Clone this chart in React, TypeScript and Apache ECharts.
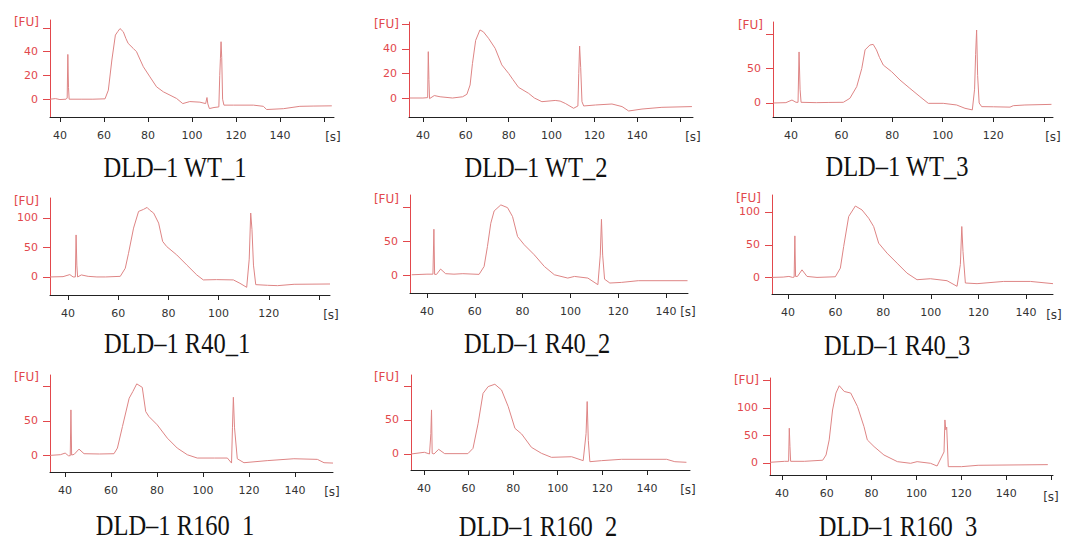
import React, { useEffect, useRef } from "react";
import * as echarts from "echarts";

type Pt = [number, number];

const titles: string[] = [
  "DLD–1 WT_1", "DLD–1 WT_2", "DLD–1 WT_3",
  "DLD–1 R40_1", "DLD–1 R40_2", "DLD–1 R40_3",
  "DLD–1 R160_1", "DLD–1 R160_2", "DLD–1 R160_3",
];

const wt1: Pt[] = [[35.5,0],[38,0.5],[40,-0.3],[42.8,0],[43.3,1],[43.6,37.7],[43.9,10],[44.2,0],[50,0],[55,0],[60.5,0.3],[62,7.6],[63.6,33],[65.2,54],[66.3,57],[67.3,59.5],[68.8,56.8],[70,51],[71,47],[73.3,42.8],[74.8,40],[76.5,33],[77.9,27.3],[80.9,18.8],[83.9,10.4],[87,6.2],[90,3.4],[93,0.6],[95.8,-3.7],[99,-2],[103.6,-2.5],[106.2,-3.7],[106.8,1.4],[107.2,-4],[107.9,-7.9],[110,-7],[112.2,-6.5],[112.6,20],[112.9,34],[113.2,48.4],[113.5,35],[113.9,0],[114.5,-5],[118.8,-5],[127.9,-5],[132.4,-6],[133.9,-8.7],[141.5,-8],[149,-6],[155,-5.8],[163.5,-5.6]];
const wt2: Pt[] = [[33.9,0],[40,0],[42.2,0.3],[42.5,37.8],[42.8,15],[43.1,-0.5],[45.3,2],[48,1],[53.8,0],[58.5,1],[60.5,3],[62,10.6],[63.1,28],[64.6,47],[66.6,55.5],[68.2,54],[70.6,48.7],[73.7,40.5],[76.8,27],[80,20],[82,15],[84.6,8.7],[89.3,3.8],[92,0],[95.5,-3],[101.7,-2],[104,-2.5],[106.4,-4.4],[110.3,-8.4],[112.3,-6.5],[112.7,20],[113.1,42.4],[113.6,25],[114.2,-3],[115,-6.5],[120.5,-5.7],[128.2,-4.9],[132.9,-7],[136,-10.6],[142.2,-9],[151.5,-7.6],[165.5,-7]];
const wt3: Pt[] = [[33,0],[38,0.5],[40.4,4.3],[42,1],[42.8,1],[43.2,74],[43.6,20],[44,1],[50,0.5],[55,0.8],[60.7,1],[63.3,6.8],[66,23.7],[68,50],[69.3,77],[71.2,84],[72.5,85],[73.8,77],[75,66],[76.5,55],[79.8,45.4],[83.1,33.3],[87,21.3],[91,9.2],[94.3,-0.5],[100.2,-0.5],[105.5,-2.9],[108.8,-7.7],[111.7,-10],[112.6,20],[113,70],[113.4,105.8],[113.8,40],[114.4,0],[115.4,-5.3],[120,-5.5],[126.6,-6],[127.9,-3.9],[132.5,-2.9],[143,-2]];
const r40a: Pt[] = [[32.8,0],[38,0.5],[40.7,4],[42,0],[42.9,0],[43.2,71],[43.5,20],[43.8,0],[45.3,3.4],[48,1],[51.5,0],[55,0],[60.8,1],[62.8,14.7],[64.1,40],[66.1,82.5],[68.1,110.7],[70,114],[71.5,117.5],[72.5,113],[74.1,108],[76.1,91],[77.7,60],[79.3,51.4],[83.3,37.3],[87.3,20.3],[91.3,3.4],[93.9,-5],[99.2,-4.5],[105.9,-5],[108.5,-10.7],[111.2,-17.5],[112.2,30],[112.8,108],[113.3,80],[113.9,20],[114.8,-13],[119.5,-14.1],[123.5,-14.7],[130.1,-12.4],[144.4,-11.9]];
const r40b: Pt[] = [[33.6,1.4],[40,2.3],[42.5,2.3],[42.9,67.6],[43.2,2],[44,2],[45.7,9.7],[47.8,3],[51.3,2.3],[55,3],[61.8,2],[63.9,13.5],[65.3,42.5],[66.7,76.3],[68.1,94.2],[70.9,103],[73.7,99],[75.8,86],[77.9,57],[80.7,45],[84.9,30.4],[89.1,13.5],[93.3,1.4],[98.9,-3.4],[101.7,-1],[107.3,-3.4],[111.5,-13],[112.5,30],[113,82],[113.5,30],[114.3,-5],[116.5,-10.6],[121.3,-9.7],[128.4,-7.2],[149,-7.2]];
const r40c: Pt[] = [[33.3,0.5],[38,1],[40.4,2],[42,0.5],[42.6,1],[42.9,63.6],[43.2,2],[44,2],[45.9,12],[48,2],[52.2,0.5],[59.9,1.5],[62,14.6],[63.4,47.5],[65.5,93],[68.3,109],[71.1,103],[73.9,90.4],[76,77.7],[78.1,52.5],[81.6,37.4],[85.8,22.2],[90,7],[94.2,-3],[99.8,-1.5],[106.8,-4.5],[111,-13],[112.4,20],[113,77.8],[113.5,40],[114.5,-8],[119.4,-9],[130.6,-5.6],[141.8,-5.6],[151.3,-9]];
const r160a: Pt[] = [[33.5,0.5],[38,1.5],[40.1,3.8],[41.5,0],[42.3,0],[42.6,65.7],[42.9,1],[44,2],[46.1,9.5],[48.3,2.9],[55,2.5],[61.3,2.9],[62.8,11],[65,42],[67.9,82.4],[69.5,92],[71.2,103],[73.6,98],[75.1,63.3],[76.5,56.2],[80.1,44.3],[84.5,25.2],[88.8,11],[93.2,1.4],[97.5,-3.3],[105,-3.3],[110.6,-3.3],[112.4,-10.5],[112.8,40],[113.2,83.8],[113.7,40],[114.9,-4.3],[117.8,-10],[127.9,-7],[139.5,-4.3],[149.7,-5.2],[152.6,-10],[156.5,-10.5]];
const r160b: Pt[] = [[34.2,0],[40.2,2.5],[42.5,0],[43.1,30],[43.4,64.7],[43.7,1],[44.5,0],[46.6,6.9],[49.3,0.5],[59.7,0.5],[62,8.3],[64.3,45],[66.5,89],[68.8,99],[71.8,102.4],[74.8,94],[77.8,69.5],[80.8,37.7],[83.8,29.4],[88.2,9.8],[92.7,1],[97.2,-4.9],[106.2,-4],[111.4,-9.8],[112.7,30],[113.2,77],[113.7,20],[114.4,-11.3],[119.6,-9.8],[128.6,-7.8],[148.8,-7.8],[152.5,-11.3],[157.7,-12.2]];
const r160c: Pt[] = [[34.7,1.2],[41.2,3],[43,3],[43.3,63],[43.6,30],[43.9,3],[50,3],[58.2,5],[59.7,14.5],[61.1,41.8],[62.6,96],[64.1,126.7],[65.6,140],[67.8,129.6],[70.7,126.7],[73.7,102.4],[76.6,66],[78.1,41.8],[81.1,29.7],[85.5,14.5],[91.5,2.4],[97.4,-0.6],[100.3,2.4],[106.3,-0.6],[109.2,-5.5],[112.3,20],[112.7,78],[113.1,60],[113.5,65],[114.2,-6.7],[120.1,-6.7],[127.5,-4.2],[158.6,-3]];

const seriesData: Pt[][] = [wt1, wt2, wt3, r40a, r40b, r40c, r160a, r160b, r160c];

const yTicks: number[][] = [[0,20,40,60],[0,20,40,60],[0,50,100],[0,50,100],[0,50,100],[0,50,100],[0,50,100],[0,50,100],[0,50,100,150]];
const yLabels: number[][] = [[0,20,40],[0,20,40],[0,50],[0,50,100],[0,50],[0,50,100],[0,50],[0,50],[0,50,100]];
const xTicks: number[][] = [
  [40,60,80,100,120,140,160],[40,60,80,100,120,140,160],[40,60,80,100,120,140],
  [40,60,80,100,120,140],[40,60,80,100,120,140],[40,60,80,100,120,140],
  [40,60,80,100,120,140],[40,60,80,100,120,140],[40,60,80,100,120,140,160],
];
const xLabels: number[][] = [
  [40,60,80,100,120,140],[40,60,80,100,120,140],[40,60,80,100,120],
  [40,60,80,100,120],[40,60,80,100,120,140],[40,60,80,100,120,140],
  [40,60,80,100,120,140],[40,60,80,100,120,140],[40,60,80,100,120,140],
];

// layout (pixel geometry) and axis extents matching it
const layouts = [
  { left: 50, top: 20, width: 284, height: 97, xMin: 35.5, xMax: 164.5, yMin: -15, yMax: 66.7, fu: [39, 22], s: [333, 137], t: [175, 167] },
  { left: 409, top: 22, width: 284, height: 95, xMin: 33.5, xMax: 166, yMin: -15.5, yMax: 62, fu: [399, 24], s: [693, 137], t: [536, 167] },
  { left: 773, top: 22, width: 280, height: 95, xMin: 32.9, xMax: 143.6, yMin: -20.3, yMax: 117.4, fu: [763, 25], s: [1053, 137], t: [897, 166] },
  { left: 50, top: 198, width: 280, height: 97, xMin: 32.8, xMax: 144.4, yMin: -30.5, yMax: 133.4, fu: [39, 201], s: [331, 315], t: [177, 343] },
  { left: 410, top: 195, width: 278, height: 98, xMin: 32.9, xMax: 149.2, yMin: -25.1, yMax: 117.4, fu: [399, 199], s: [688, 312], t: [537, 343] },
  { left: 772, top: 195, width: 281, height: 99, xMin: 33.3, xMax: 151.3, yMin: -24.7, yMax: 125.7, fu: [761, 198], s: [1054, 315], t: [897, 345] },
  { left: 50, top: 375, width: 283, height: 97, xMin: 33.5, xMax: 156.5, yMin: -23.3, yMax: 115.7, fu: [39, 377], s: [332, 492], t: [175, 525] },
  { left: 411, top: 375, width: 279, height: 95, xMin: 34.2, xMax: 159.3, yMin: -23.5, yMax: 116, fu: [399, 377], s: [688, 490], t: [538, 526] },
  { left: 770, top: 378, width: 283, height: 97, xMin: 34.7, xMax: 160.9, yMin: -21.8, yMax: 154, fu: [759, 380], s: [1051, 497], t: [898, 526] },
];

const RED = "#e2484c";
const LINE = "#de8585";
const DARK = "#222222";
const SANS = "DejaVu Sans";

export default function App() {
  const ref = useRef<HTMLDivElement>(null);
  useEffect(() => {
    if (!ref.current) return;
    const chart = echarts.init(ref.current, undefined, { renderer: "svg" });
    const graphics: any[] = [];
    layouts.forEach((l, i) => {
      graphics.push({
        type: "text", x: l.fu[0], y: l.fu[1],
        style: { text: "[FU]", fill: RED, font: `12px '${SANS}'`, textAlign: "right", textVerticalAlign: "middle" },
      });
      graphics.push({
        type: "text", x: l.s[0], y: l.s[1],
        style: { text: "[s]", fill: "#333", font: `12px '${SANS}'`, textAlign: "center", textVerticalAlign: "middle" },
      });
      graphics.push({
        type: "text", x: l.t[0], y: l.t[1], scaleY: 1.2,
        style: { text: titles[i], fill: "#111", font: "24.5px 'Liberation Serif'", textAlign: "center", textVerticalAlign: "middle" },
      });
    });
    chart.setOption({
      animation: false,
      backgroundColor: "#ffffff",
      grid: layouts.map((l) => ({ left: l.left, top: l.top, width: l.width, height: l.height })),
      xAxis: layouts.map((l, i) => ({
        type: "value", gridIndex: i, min: l.xMin, max: l.xMax,
        axisLine: { show: true, onZero: false, lineStyle: { color: DARK, width: 1 } },
        axisTick: { show: true, length: 5, customValues: xTicks[i], lineStyle: { color: DARK } },
        axisLabel: { customValues: xLabels[i], margin: 13, color: "#333", fontSize: 11, fontFamily: SANS },
        splitLine: { show: false },
      })),
      yAxis: layouts.map((l, i) => ({
        type: "value", gridIndex: i, min: l.yMin, max: l.yMax,
        axisLine: { show: true, onZero: false, lineStyle: { color: RED, width: 1 } },
        axisTick: { show: true, length: 7, customValues: yTicks[i], lineStyle: { color: RED } },
        axisLabel: { customValues: yLabels[i], margin: 12, color: RED, fontSize: 11, fontFamily: SANS },
        splitLine: { show: false },
      })),
      series: seriesData.map((d, i) => ({
        type: "line", xAxisIndex: i, yAxisIndex: i, data: d,
        showSymbol: false, symbol: "none", silent: true,
        lineStyle: { color: LINE, width: 1 },
      })),
      graphic: graphics,
    });
    return () => chart.dispose();
  }, []);
  return <div ref={ref} style={{ position: "absolute", left: 0, top: 0, width: 1065, height: 536 }} />;
}
